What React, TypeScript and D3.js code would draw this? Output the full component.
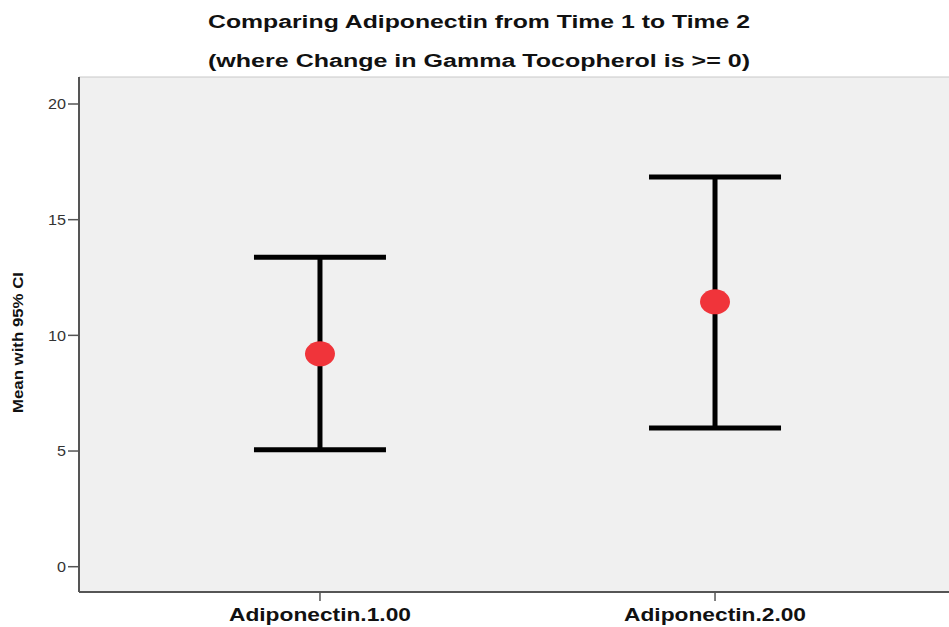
import React from "react";
import * as d3 from "d3";

const categories = ["Adiponectin.1.00", "Adiponectin.2.00"];
const means = [9.2, 11.45];
const lower = [5.05, 6.0];
const upper = [13.38, 16.85];
const yTicks = [0, 5, 10, 15, 20];
const titleLines = [
  "Comparing Adiponectin from Time 1 to Time 2",
  "(where Change in Gamma Tocopherol is >= 0)",
];
const yLabel = "Mean with 95% CI";

const W = 949;
const H = 627;
const left = 79;
const right = 956;
const top = 77;
const bottom = 592;

export default function App() {
  const x = d3.scalePoint<string>().domain(categories).range([left, right]).padding(0.61);
  const y = d3.scaleLinear().domain([0, 20]).range([566.7, 104]);
  const capHalf = 66;
  const font = "'Liberation Sans', Arial, sans-serif";
  return (
    <svg width={W} height={H} style={{ position: "absolute", left: 0, top: 0, background: "#fff" }}>
      <rect x={left} y={top} width={right - left} height={bottom - top} fill="#f0f0f0" />
      <line x1={left} x2={right} y1={top} y2={top} stroke="#c8c8c8" strokeWidth={1} />
      {/* axes */}
      <line x1={left} x2={left} y1={top} y2={bottom} stroke="#555" strokeWidth={2} />
      <line x1={left} x2={right} y1={bottom} y2={bottom} stroke="#555" strokeWidth={2} />
      {yTicks.map((t) => (
        <g key={t}>
          <line x1={left - 11} x2={left} y1={y(t)} y2={y(t)} stroke="#555" strokeWidth={1.5} />
          <text
            x={left - 13}
            y={y(t)}
            dy="0.36em"
            textAnchor="end"
            fontSize={14.5}
            fill="#333"
            fontFamily={font}
            textLength={String(t).length * 9}
            lengthAdjust="spacingAndGlyphs"
          >
            {t}
          </text>
        </g>
      ))}
      {categories.map((c) => (
        <g key={c}>
          <line x1={x(c)} x2={x(c)} y1={bottom} y2={bottom + 9} stroke="#555" strokeWidth={1.5} />
          <text
            x={x(c)}
            y={621}
            textAnchor="middle"
            fontSize={18.5}
            fontWeight="bold"
            fill="#111"
            fontFamily={font}
            textLength={182}
            lengthAdjust="spacingAndGlyphs"
          >
            {c}
          </text>
        </g>
      ))}
      {categories.map((c, i) => {
        const cx = x(c)!;
        return (
          <g key={"eb" + c}>
            <line x1={cx} x2={cx} y1={y(upper[i])} y2={y(lower[i])} stroke="#000" strokeWidth={5} />
            <line x1={cx - capHalf} x2={cx + capHalf} y1={y(upper[i])} y2={y(upper[i])} stroke="#000" strokeWidth={5} />
            <line x1={cx - capHalf} x2={cx + capHalf} y1={y(lower[i])} y2={y(lower[i])} stroke="#000" strokeWidth={5} />
            <ellipse cx={cx} cy={y(means[i])} rx={15} ry={12.5} fill="#f0343a" />
          </g>
        );
      })}
      {titleLines.map((t, i) => (
        <text
          key={i}
          x={479}
          y={28 + i * 39}
          textAnchor="middle"
          fontSize={18}
          fontWeight="bold"
          fill="#111"
          fontFamily={font}
          textLength={542}
          lengthAdjust="spacingAndGlyphs"
        >
          {t}
        </text>
      ))}
      <text
        transform={`translate(23, 342.5) rotate(-90)`}
        textAnchor="middle"
        fontSize={15}
        fontWeight="bold"
        fill="#111"
        fontFamily={font}
        textLength={141}
        lengthAdjust="spacingAndGlyphs"
      >
        {yLabel}
      </text>
    </svg>
  );
}
